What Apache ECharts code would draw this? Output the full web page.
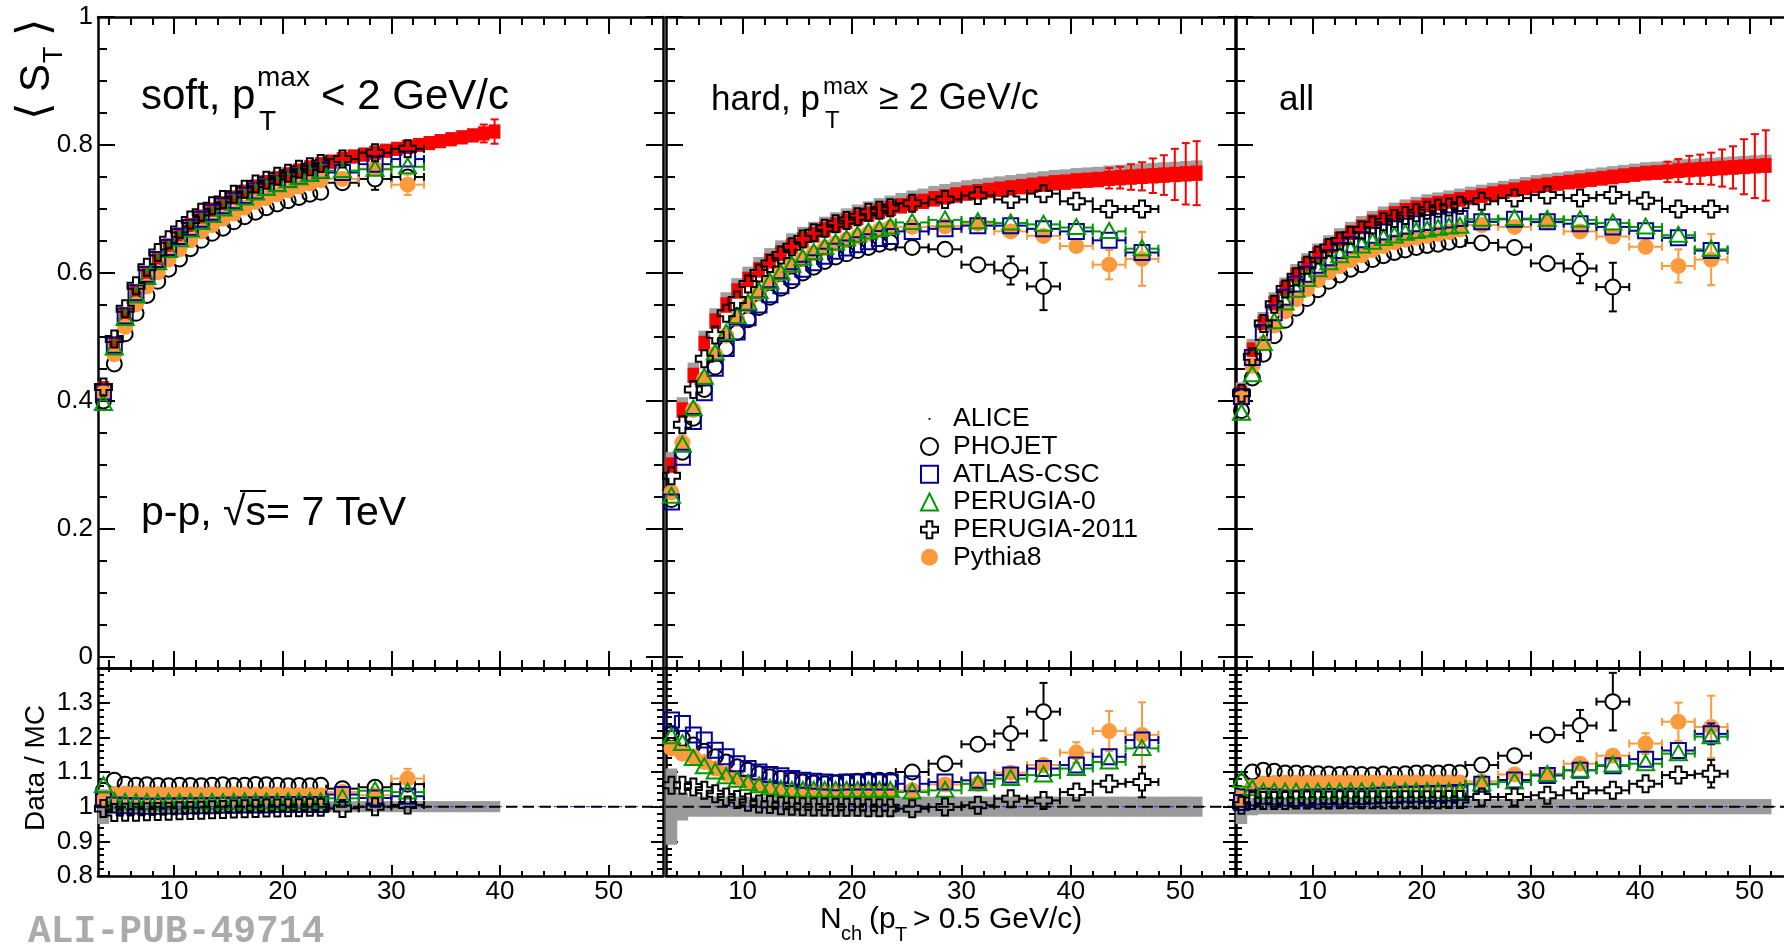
<!DOCTYPE html>
<html><head><meta charset="utf-8">
<script src="https://cdn.jsdelivr.net/npm/echarts@6/dist/echarts.min.js"></script>
<style>html,body{margin:0;padding:0;background:#fff;overflow:hidden;width:1784px;height:945px}#c{width:1812px;height:945px}</style>
</head><body><div id="c"></div>
<script>
// ---------------- DATA ----------------
const X_MAJOR = [10,20,30,40,50];
const X_MINOR = [4,6,8,12,14,16,18,22,24,26,28,32,34,36,38,42,44,46,48,52,54];
const Y_TOP_MAJOR = [0,0.2,0.4,0.6,0.8,1];
const Y_TOP_MINOR = [0.05,0.1,0.15,0.25,0.3,0.35,0.45,0.5,0.55,0.65,0.7,0.75,0.85,0.9,0.95];
const Y_RATIO_MAJOR = [0.8,0.9,1,1.1,1.2,1.3];
const Y_RATIO_MINOR = [0.82,0.84,0.86,0.88,0.92,0.94,0.96,0.98,1.02,1.04,1.06,1.08,1.12,1.14,1.16,1.18,1.22,1.24,1.26,1.28,1.32,1.34,1.36,1.38];

const ALICE_EDGES_SOFT = [3,4,5,6,7,8,9,10,11,12,13,14,15,16,17,18,19,20,21,22,23,24,25,26,27,28,29,30,31,32,33,34,35,36,37,38,39,40];
const ALICE_EDGES_FULL = [3,4,5,6,7,8,9,10,11,12,13,14,15,16,17,18,19,20,21,22,23,24,25,26,27,28,29,30,31,32,33,34,35,36,37,38,39,40,41,42,43,44,45,46,47,48,49,50,51,52];
const MC_EDGES = [3,4,5,6,7,8,9,10,11,12,13,14,15,16,17,18,19,20,21,22,23,24,27,30,33,36,39,42,45,48];

const ALICE_SOFT = [0.420,0.490,0.536,0.571,0.600,0.623,0.643,0.660,0.675,0.688,0.699,0.709,0.718,0.727,0.735,0.742,0.748,0.754,0.760,0.765,0.770,0.774,0.778,0.782,0.785,0.788,0.791,0.794,0.797,0.800,0.803,0.806,0.809,0.812,0.815,0.818,0.821];
const ALICE_SOFT_STAT = [0,0,0,0,0,0,0,0,0,0,0,0,0,0,0,0,0,0,0,0,0,0,0,0,0,0,0,0,0,0,0,0,0,0,0,0.014,0.019];
const ALICE_HARD = [0.300,0.386,0.440,0.490,0.525,0.550,0.572,0.590,0.605,0.619,0.631,0.642,0.652,0.660,0.668,0.675,0.681,0.687,0.692,0.697,0.701,0.705,0.709,0.712,0.716,0.719,0.722,0.725,0.727,0.729,0.731,0.733,0.735,0.737,0.739,0.741,0.742,0.744,0.745,0.746,0.748,0.749,0.750,0.751,0.752,0.753,0.754,0.755,0.756];
const ALICE_HARD_STAT = [0,0,0,0,0,0,0,0,0,0,0,0,0,0,0,0,0,0,0,0,0,0,0,0,0,0,0,0,0,0,0,0,0,0,0,0,0,0,0,0.012,0.016,0.017,0.020,0.022,0.027,0.031,0.040,0.048,0.050];
const ALICE_ALL = [0.412,0.480,0.522,0.553,0.576,0.597,0.614,0.629,0.642,0.653,0.663,0.672,0.680,0.687,0.693,0.698,0.702,0.706,0.709,0.712,0.715,0.718,0.721,0.724,0.727,0.730,0.733,0.736,0.738,0.740,0.742,0.744,0.746,0.748,0.750,0.752,0.754,0.756,0.757,0.758,0.760,0.761,0.762,0.763,0.764,0.765,0.766,0.767,0.768];
const ALICE_ALL_STAT = [0,0,0,0,0,0,0,0,0,0,0,0,0,0,0,0,0,0,0,0,0,0,0,0,0,0,0,0,0,0,0,0,0,0,0,0,0,0,0,0.016,0.018,0.022,0.023,0.025,0.029,0.033,0.043,0.050,0.055];

// systematic uncertainty of the ratio (grey band around 1)
const BAND_SOFT = [0.05,0.02,0.016,0.016,0.016,0.016,0.016,0.016,0.016,0.016,0.016,0.016,0.016,0.016,0.016,0.016,0.016,0.016,0.016,0.016,0.016,0.016,0.016,0.016,0.016,0.016,0.016,0.016,0.016,0.016,0.016,0.016,0.016,0.016,0.016,0.016,0.016];
const BAND_HARD = [0.11,0.04,0.029,0.029,0.029,0.029,0.029,0.029,0.029,0.029,0.029,0.029,0.029,0.029,0.029,0.029,0.029,0.029,0.029,0.029,0.029,0.029,0.029,0.029,0.029,0.029,0.029,0.029,0.029,0.029,0.029,0.029,0.029,0.029,0.029,0.029,0.029,0.029,0.029,0.029,0.029,0.029,0.029,0.029,0.029,0.029,0.029,0.029,0.029];
const BAND_ALL = [0.05,0.025,0.022,0.022,0.022,0.022,0.022,0.022,0.022,0.022,0.022,0.022,0.022,0.022,0.022,0.022,0.022,0.022,0.022,0.022,0.022,0.022,0.022,0.022,0.022,0.022,0.022,0.022,0.022,0.022,0.022,0.022,0.022,0.022,0.022,0.022,0.022,0.022,0.022,0.022,0.022,0.022,0.022,0.022,0.022,0.022,0.022,0.022,0.022];

// MC, <S_T>
const SOFT_PHOJET = [0.400,0.458,0.505,0.537,0.565,0.587,0.606,0.622,0.638,0.651,0.662,0.670,0.680,0.688,0.695,0.702,0.708,0.713,0.718,0.723,0.726,0.741,0.747,0.750];
const SOFT_PHOJET_ERR = [0,0,0,0,0,0,0,0,0,0,0,0,0,0,0,0,0,0,0,0,0,0.005,0.017,0.012];
const SOFT_ATLAS = [0.414,0.487,0.533,0.569,0.598,0.621,0.640,0.657,0.671,0.684,0.695,0.705,0.713,0.721,0.728,0.734,0.740,0.746,0.751,0.756,0.760,0.757,0.770,0.778];
const SOFT_ATLAS_ERR = [0,0,0,0,0,0,0,0,0,0,0,0,0,0,0,0,0,0,0,0,0,0.004,0.006,0.008];
const SOFT_P0 = [0.396,0.483,0.529,0.564,0.593,0.616,0.635,0.652,0.667,0.679,0.690,0.700,0.709,0.717,0.725,0.732,0.738,0.744,0.749,0.754,0.759,0.760,0.762,0.766];
const SOFT_P0_ERR = [0,0,0,0,0,0,0,0,0,0,0,0,0,0,0,0,0,0,0,0,0,0.004,0.006,0.008];
const SOFT_P11 = [0.422,0.497,0.544,0.580,0.609,0.632,0.652,0.668,0.683,0.695,0.705,0.715,0.723,0.731,0.739,0.745,0.751,0.756,0.762,0.766,0.771,0.778,0.788,0.794];
const SOFT_P11_ERR = [0,0,0,0,0,0,0,0,0,0,0,0,0,0,0,0,0,0,0,0,0,0.004,0.006,0.008];
const SOFT_PY8 = [0.412,0.473,0.516,0.551,0.579,0.601,0.621,0.637,0.651,0.665,0.675,0.685,0.693,0.702,0.711,0.717,0.723,0.729,0.735,0.740,0.745,0.747,0.763,0.738];
const SOFT_PY8_ERR = [0,0,0,0,0,0,0,0,0,0,0,0,0,0,0,0,0,0,0,0,0,0.005,0.009,0.016];

const HARD_PHOJET = [0.246,0.320,0.373,0.418,0.453,0.482,0.507,0.527,0.546,0.562,0.576,0.588,0.600,0.609,0.618,0.625,0.630,0.635,0.640,0.645,0.648,0.640,0.637,0.613,0.604,0.579];
const HARD_PHOJET_ERR = [0,0,0,0,0,0,0,0,0,0,0,0,0,0,0,0,0,0,0,0,0,0.004,0.006,0.010,0.022,0.037];
const HARD_ATLAS = [0.242,0.312,0.368,0.413,0.451,0.482,0.508,0.530,0.550,0.566,0.580,0.594,0.606,0.616,0.626,0.634,0.639,0.644,0.649,0.654,0.657,0.665,0.669,0.674,0.674,0.669,0.665,0.651,0.632];
const HARD_ATLAS_ERR = [0,0,0,0,0,0,0,0,0,0,0,0,0,0,0,0,0,0,0,0,0,0.003,0.004,0.005,0.006,0.007,0.008,0.010,0.013];
const HARD_P0 = [0.251,0.331,0.388,0.437,0.475,0.506,0.532,0.553,0.571,0.586,0.600,0.612,0.623,0.632,0.640,0.647,0.653,0.659,0.664,0.668,0.672,0.679,0.683,0.680,0.678,0.676,0.671,0.665,0.638];
const HARD_P0_ERR = [0,0,0,0,0,0,0,0,0,0,0,0,0,0,0,0,0,0,0,0,0,0.003,0.004,0.005,0.006,0.007,0.008,0.010,0.013];
const HARD_P11 = [0.283,0.363,0.418,0.466,0.503,0.537,0.558,0.583,0.600,0.615,0.628,0.641,0.653,0.663,0.670,0.677,0.682,0.688,0.695,0.698,0.702,0.709,0.715,0.721,0.715,0.724,0.712,0.700,0.700];
const HARD_P11_ERR = [0,0,0,0,0,0,0,0,0,0,0,0,0,0,0,0,0,0,0,0,0,0.003,0.004,0.005,0.006,0.007,0.008,0.009,0.012];
const HARD_PY8 = [0.257,0.335,0.386,0.434,0.473,0.502,0.528,0.550,0.569,0.585,0.599,0.612,0.622,0.631,0.639,0.646,0.652,0.657,0.662,0.667,0.671,0.672,0.673,0.677,0.665,0.658,0.642,0.613,0.622];
const HARD_PY8_ERR = [0,0,0,0,0,0,0,0,0,0,0,0,0,0,0,0,0,0,0,0,0,0.004,0.005,0.006,0.008,0.010,0.012,0.023,0.042];

const ALL_PHOJET = [0.385,0.436,0.473,0.502,0.526,0.545,0.560,0.574,0.587,0.597,0.606,0.613,0.621,0.627,0.632,0.636,0.640,0.643,0.645,0.648,0.652,0.647,0.640,0.615,0.607,0.578];
const ALL_PHOJET_ERR = [0,0,0,0,0,0,0,0,0,0,0,0,0,0,0,0,0,0,0,0,0,0.004,0.005,0.008,0.023,0.038];
const ALL_ATLAS = [0.407,0.468,0.507,0.538,0.562,0.583,0.598,0.612,0.624,0.635,0.644,0.652,0.659,0.664,0.669,0.673,0.677,0.679,0.681,0.683,0.685,0.680,0.684,0.680,0.677,0.672,0.666,0.655,0.635];
const ALL_ATLAS_ERR = [0,0,0,0,0,0,0,0,0,0,0,0,0,0,0,0,0,0,0,0,0,0.003,0.004,0.005,0.006,0.007,0.008,0.010,0.013];
const ALL_P0 = [0.381,0.441,0.490,0.524,0.553,0.573,0.590,0.605,0.616,0.627,0.635,0.642,0.648,0.654,0.658,0.662,0.665,0.667,0.670,0.672,0.673,0.684,0.685,0.684,0.683,0.678,0.672,0.659,0.637];
const ALL_P0_ERR = [0,0,0,0,0,0,0,0,0,0,0,0,0,0,0,0,0,0,0,0,0,0.003,0.004,0.005,0.006,0.007,0.008,0.010,0.013];
const ALL_P11 = [0.412,0.469,0.521,0.551,0.575,0.594,0.612,0.628,0.640,0.650,0.659,0.667,0.675,0.680,0.685,0.690,0.694,0.698,0.701,0.703,0.706,0.712,0.717,0.722,0.717,0.722,0.713,0.700,0.700];
const ALL_P11_ERR = [0,0,0,0,0,0,0,0,0,0,0,0,0,0,0,0,0,0,0,0,0,0.003,0.004,0.005,0.006,0.007,0.008,0.009,0.012];
const ALL_PY8 = [0.404,0.455,0.490,0.518,0.540,0.559,0.575,0.589,0.601,0.611,0.620,0.628,0.636,0.642,0.648,0.652,0.655,0.658,0.661,0.664,0.668,0.675,0.672,0.679,0.665,0.657,0.641,0.611,0.621];
const ALL_PY8_ERR = [0,0,0,0,0,0,0,0,0,0,0,0,0,0,0,0,0,0,0,0,0,0.004,0.005,0.006,0.008,0.010,0.012,0.026,0.040];

// Data / MC
const R_SOFT_PHOJET = [1.047,1.076,1.065,1.062,1.063,1.061,1.060,1.062,1.061,1.060,1.062,1.063,1.061,1.062,1.064,1.063,1.062,1.060,1.061,1.060,1.062,1.052,1.056,1.065];
const R_SOFT_PHOJET_ERR = [0,0,0,0,0,0,0,0,0,0,0,0,0,0,0,0,0,0,0,0,0,0.006,0.018,0.020];
const R_SOFT_ATLAS = [1.020,1.005,1.003,1.002,1.001,1.001,1.002,1.002,1.003,1.003,1.003,1.004,1.004,1.005,1.005,1.005,1.006,1.006,1.006,1.006,1.006,1.035,1.025,1.030];
const R_SOFT_ATLAS_ERR = [0,0,0,0,0,0,0,0,0,0,0,0,0,0,0,0,0,0,0,0,0,0.006,0.008,0.010];
const R_SOFT_P0 = [1.061,1.015,1.013,1.012,1.012,1.011,1.012,1.011,1.012,1.013,1.013,1.012,1.013,1.014,1.013,1.014,1.013,1.014,1.014,1.014,1.014,1.024,1.046,1.042];
const R_SOFT_P0_ERR = [0,0,0,0,0,0,0,0,0,0,0,0,0,0,0,0,0,0,0,0,0,0.006,0.008,0.010];
const R_SOFT_P11 = [0.995,0.983,0.984,0.984,0.985,0.986,0.987,0.988,0.989,0.990,0.991,0.992,0.993,0.994,0.995,0.996,0.996,0.997,0.997,0.998,0.998,0.995,1.000,1.005];
const R_SOFT_P11_ERR = [0,0,0,0,0,0,0,0,0,0,0,0,0,0,0,0,0,0,0,0,0,0.006,0.008,0.012];
const R_SOFT_PY8 = [1.018,1.036,1.038,1.037,1.036,1.036,1.035,1.036,1.036,1.035,1.036,1.035,1.036,1.035,1.034,1.035,1.035,1.034,1.034,1.034,1.033,1.042,1.033,1.081];
const R_SOFT_PY8_ERR = [0,0,0,0,0,0,0,0,0,0,0,0,0,0,0,0,0,0,0,0,0,0.006,0.012,0.028];

const R_HARD_PHOJET = [1.211,1.197,1.178,1.160,1.144,1.129,1.115,1.105,1.095,1.086,1.081,1.076,1.071,1.068,1.066,1.068,1.071,1.073,1.076,1.076,1.076,1.100,1.124,1.180,1.211,1.274];
const R_HARD_PHOJET_ERR = [0,0,0,0,0,0,0,0,0,0,0,0,0,0,0,0,0,0,0,0,0,0.008,0.012,0.020,0.047,0.083];
const R_HARD_ATLAS = [1.250,1.240,1.207,1.192,1.163,1.144,1.124,1.110,1.100,1.093,1.089,1.081,1.076,1.073,1.071,1.069,1.071,1.071,1.071,1.071,1.071,1.066,1.071,1.076,1.091,1.110,1.120,1.144,1.192];
const R_HARD_ATLAS_ERR = [0,0,0,0,0,0,0,0,0,0,0,0,0,0,0,0,0,0,0,0,0,0.005,0.006,0.008,0.010,0.012,0.015,0.020,0.025];
const R_HARD_P0 = [1.202,1.182,1.139,1.115,1.100,1.086,1.076,1.067,1.060,1.054,1.050,1.047,1.047,1.047,1.047,1.047,1.047,1.047,1.047,1.047,1.047,1.042,1.047,1.066,1.081,1.091,1.110,1.129,1.168];
const R_HARD_P0_ERR = [0,0,0,0,0,0,0,0,0,0,0,0,0,0,0,0,0,0,0,0,0,0.005,0.006,0.008,0.010,0.012,0.015,0.020,0.025];
const R_HARD_P11 = [1.062,1.062,1.057,1.047,1.037,1.028,1.021,1.013,1.008,1.006,1.003,1.001,1.000,0.999,0.999,0.998,0.998,0.998,0.997,0.997,0.997,0.994,0.999,1.004,1.023,1.018,1.042,1.066,1.071];
const R_HARD_P11_ERR = [0,0,0,0,0,0,0,0,0,0,0,0,0,0,0,0,0,0,0,0,0,0.005,0.006,0.008,0.010,0.012,0.015,0.020,0.044];
const R_HARD_PY8 = [1.168,1.153,1.144,1.129,1.110,1.095,1.083,1.071,1.062,1.054,1.050,1.044,1.043,1.042,1.042,1.042,1.042,1.042,1.042,1.042,1.042,1.047,1.064,1.066,1.098,1.120,1.156,1.218,1.207];
const R_HARD_PY8_ERR = [0,0,0,0,0,0,0,0,0,0,0,0,0,0,0,0,0,0,0,0,0,0.006,0.008,0.010,0.012,0.016,0.030,0.058,0.094];

const R_ALL_PHOJET = [1.071,1.100,1.105,1.102,1.097,1.097,1.096,1.095,1.094,1.093,1.094,1.093,1.092,1.094,1.093,1.095,1.097,1.098,1.097,1.099,1.098,1.120,1.147,1.207,1.234,1.303];
const R_ALL_PHOJET_ERR = [0,0,0,0,0,0,0,0,0,0,0,0,0,0,0,0,0,0,0,0,0,0.006,0.010,0.015,0.045,0.083];
const R_ALL_ATLAS = [1.012,1.026,1.030,1.028,1.025,1.024,1.027,1.028,1.029,1.028,1.030,1.029,1.031,1.033,1.034,1.036,1.036,1.037,1.038,1.039,1.041,1.065,1.077,1.090,1.105,1.118,1.137,1.162,1.210];
const R_ALL_ATLAS_ERR = [0,0,0,0,0,0,0,0,0,0,0,0,0,0,0,0,0,0,0,0,0,0.005,0.006,0.008,0.010,0.012,0.015,0.020,0.030];
const R_ALL_P0 = [1.076,1.052,1.042,1.042,1.042,1.042,1.042,1.042,1.042,1.042,1.043,1.043,1.043,1.043,1.044,1.044,1.044,1.044,1.044,1.044,1.044,1.066,1.071,1.093,1.105,1.120,1.124,1.153,1.202];
const R_ALL_P0_ERR = [0,0,0,0,0,0,0,0,0,0,0,0,0,0,0,0,0,0,0,0,0,0.005,0.006,0.008,0.010,0.012,0.015,0.020,0.020];
const R_ALL_P11 = [1.004,1.018,1.018,1.018,1.018,1.019,1.019,1.019,1.019,1.020,1.020,1.020,1.020,1.020,1.020,1.020,1.020,1.020,1.020,1.021,1.021,1.028,1.028,1.033,1.047,1.047,1.066,1.091,1.095];
const R_ALL_P11_ERR = [0,0,0,0,0,0,0,0,0,0,0,0,0,0,0,0,0,0,0,0,0,0.005,0.006,0.008,0.010,0.012,0.015,0.020,0.040];
const R_ALL_PY8 = [1.023,1.057,1.067,1.068,1.069,1.069,1.070,1.070,1.070,1.070,1.070,1.070,1.070,1.070,1.070,1.070,1.070,1.070,1.070,1.070,1.070,1.073,1.093,1.093,1.124,1.147,1.182,1.245,1.230];
const R_ALL_PY8_ERR = [0,0,0,0,0,0,0,0,0,0,0,0,0,0,0,0,0,0,0,0,0,0.006,0.008,0.010,0.012,0.016,0.030,0.055,0.090];

const MC_NAMES = ['PHOJET','ATLAS-CSC','PERUGIA-0','PERUGIA-2011','Pythia8'];

// ---------------- STYLE / LAYOUT ----------------
const FONT = '"Liberation Sans", Arial, Helvetica, sans-serif';
const PANELS = [[98,565],[666,569],[1236,568]];
const TOP_Y = 17, TOP_H = 651, BOT_Y = 668, BOT_H = 208;
const MARK = {
  'PHOJET':       {kind:'circle',   color:'#000000', fill:'none'},
  'ATLAS-CSC':    {kind:'square',   color:'#000099', fill:'none'},
  'PERUGIA-0':    {kind:'triangle', color:'#009900', fill:'none'},
  'PERUGIA-2011': {kind:'cross',    color:'#000000', fill:'none'},
  'Pythia8':      {kind:'dot',      color:'#fd9a3c', fill:'#fd9a3c'}
};
const DRAW_ORDER = ['PHOJET','Pythia8','ATLAS-CSC','PERUGIA-0','PERUGIA-2011'];

function markerShape(kind, cx, cy, st) {
  const lw = 2;
  if (kind === 'circle') return {type:'circle', shape:{cx, cy, r:7.5}, style:{fill:st.fill, stroke:st.color, lineWidth:lw}};
  if (kind === 'dot') return {type:'circle', shape:{cx, cy, r:8}, style:{fill:st.color}};
  if (kind === 'square') return {type:'rect', shape:{x:cx-7.5, y:cy-7.5, width:15, height:15}, style:{fill:st.fill, stroke:st.color, lineWidth:lw}};
  if (kind === 'triangle') return {type:'polygon', shape:{points:[[cx,cy-8.5],[cx-8.5,cy+6.5],[cx+8.5,cy+6.5]]}, style:{fill:st.fill, stroke:st.color, lineWidth:lw}};
  const a = 8.5, b = 3;
  return {type:'polygon', shape:{points:[[cx-b,cy-a],[cx+b,cy-a],[cx+b,cy-b],[cx+a,cy-b],[cx+a,cy+b],[cx+b,cy+b],[cx+b,cy+a],[cx-b,cy+a],[cx-b,cy+b],[cx-a,cy+b],[cx-a,cy-b],[cx-b,cy-b]]}, style:{fill:st.fill, stroke:st.color, lineWidth:lw}};
}
function seg(x1,y1,x2,y2,color,w){ return {type:'line', shape:{x1,y1,x2,y2}, style:{stroke:color, lineWidth:w||2}}; }

function mcRender(name) {
  const st = MARK[name];
  return function(params, api) {
    const x = api.value(0), xe = api.value(1), y = api.value(2), ye = api.value(3);
    const c = api.coord([x, y]);
    const xl = api.coord([x - xe, y])[0], xr = api.coord([x + xe, y])[0];
    const yt = api.coord([x, y + ye])[1], yb = api.coord([x, y - ye])[1];
    const R = 8, cap = 4, ch = [];
    if (c[0] - xl > R + 1) {
      ch.push(seg(xl, c[1], c[0]-R, c[1], st.color), seg(c[0]+R, c[1], xr, c[1], st.color));
      ch.push(seg(xl, c[1]-cap, xl, c[1]+cap, st.color), seg(xr, c[1]-cap, xr, c[1]+cap, st.color));
    }
    if (c[1] - yt > R + 1) {
      ch.push(seg(c[0], yt, c[0], c[1]-R, st.color), seg(c[0], c[1]+R, c[0], yb, st.color));
      ch.push(seg(c[0]-cap, yt, c[0]+cap, yt, st.color), seg(c[0]-cap, yb, c[0]+cap, yb, st.color));
    }
    ch.push(markerShape(st.kind, c[0], c[1], st));
    return {type:'group', children:ch};
  };
}

function mcSeries(g, name, vals, errs) {
  const data = vals.map((v,i) => [(MC_EDGES[i]+MC_EDGES[i+1])/2, (MC_EDGES[i+1]-MC_EDGES[i])/2, v, errs[i]]);
  return {type:'custom', name, coordinateSystem:'cartesian2d', xAxisIndex:4*g, yAxisIndex:4*g,
    silent:true, animation:false, encode:{x:0, y:2}, data, renderItem: mcRender(name)};
}

// boxes spanning each bin (ALICE systematic boxes / ratio band)
function boxSeries(g, name, edges, vals, halfArr, half, off, color) {
  const data = vals.map((v,i) => [edges[i], edges[i+1], v, halfArr ? halfArr[i] : half]);
  return {type:'custom', name, coordinateSystem:'cartesian2d', xAxisIndex:4*g, yAxisIndex:4*g,
    silent:true, animation:false, encode:{x:[0,1], y:2}, data,
    renderItem(params, api) {
      const x0 = api.value(0), x1 = api.value(1), y = api.value(2), h = api.value(3);
      const p0 = api.coord([x0, y + off + h]), p1 = api.coord([x1, y + off - h]);
      return {type:'rect', shape:{x:p0[0]-0.3, y:p0[1], width:p1[0]-p0[0]+0.6, height:p1[1]-p0[1]}, style:{fill:color}};
    }};
}
function statSeries(g, edges, vals, stat, sys) {
  const data = vals.map((v,i) => [(edges[i]+edges[i+1])/2, v, stat[i]]);
  return {type:'custom', name:'ALICE', coordinateSystem:'cartesian2d', xAxisIndex:4*g, yAxisIndex:4*g,
    silent:true, animation:false, encode:{x:0, y:1}, data,
    renderItem(params, api) {
      const x = api.value(0), y = api.value(1), s = api.value(2);
      if (!(s > sys)) return null;
      const t = api.coord([x, y + s]), b = api.coord([x, y - s]);
      return {type:'group', children:[seg(t[0], t[1], b[0], b[1], '#ff0000'), seg(t[0]-4, t[1], t[0]+4, t[1], '#ff0000'), seg(b[0]-4, b[1], b[0]+4, b[1], '#ff0000')]};
    }};
}

// ---------------- AXES ----------------
const xAxes = [], yAxes = [], grids = [];
for (let g = 0; g < 6; g++) {
  const p = g % 3, ratio = g >= 3;
  grids.push({left:PANELS[p][0], width:PANELS[p][1], top: ratio ? BOT_Y : TOP_Y, height: ratio ? BOT_H : TOP_H});
  const bMaj = ratio ? 11 : 17, bMin = ratio ? 5 : 8, tMaj = ratio ? 8 : 17, tMin = ratio ? 4 : 8;
  const xa = (pos, vals, len, line, label) => ({
    type:'value', gridIndex:g, position:pos, min:3, max:55, silent:true,
    axisLine:{show:line, onZero:false, lineStyle:{color:'#000', width:2.5}},
    axisTick:{show:true, inside:true, length:len, customValues:vals, lineStyle:{color:'#000', width:2}},
    axisLabel: label ? {show:true, customValues:X_MAJOR, margin:3, fontSize:26, fontFamily:FONT, color:'#000'} : {show:false},
    splitLine:{show:false}, axisPointer:{show:false}
  });
  xAxes.push(xa('bottom', X_MAJOR, bMaj, true, ratio), xa('bottom', X_MINOR, bMin, false, false),
             xa('top', X_MAJOR, tMaj, true, false), xa('top', X_MINOR, tMin, false, false));
  const yMajV = ratio ? Y_RATIO_MAJOR : Y_TOP_MAJOR, yMinV = ratio ? Y_RATIO_MINOR : Y_TOP_MINOR;
  const yMajL = ratio ? 12 : 17, yMinL = ratio ? 6 : 9;
  const ya = (pos, vals, len, line, label) => ({
    type:'value', gridIndex:g, position:pos, min: ratio ? 0.8 : -0.0172, max: ratio ? 1.4 : 1, silent:true,
    axisLine:{show:line, onZero:false, lineStyle:{color:'#000', width:2.5}},
    axisTick:{show:true, inside:true, length:len, customValues:vals, lineStyle:{color:'#000', width:2}},
    axisLabel: label ? {show:true, customValues:yMajV, margin:5, fontSize:26, fontFamily:FONT, color:'#000'} : {show:false},
    splitLine:{show:false}, axisPointer:{show:false}
  });
  yAxes.push(ya('left', yMajV, yMajL, true, p === 0), ya('left', yMinV, yMinL, false, false),
             ya('right', yMajV, yMajL, true, false), ya('right', yMinV, yMinL, false, false));
}

// ---------------- SERIES ----------------
const series = [];
const TOP = [
  {edges:ALICE_EDGES_SOFT, alice:ALICE_SOFT, stat:ALICE_SOFT_STAT, sys:0.011, gray:0.011, off:0.0,
   mc:{'PHOJET':[SOFT_PHOJET,SOFT_PHOJET_ERR],'ATLAS-CSC':[SOFT_ATLAS,SOFT_ATLAS_ERR],'PERUGIA-0':[SOFT_P0,SOFT_P0_ERR],'PERUGIA-2011':[SOFT_P11,SOFT_P11_ERR],'Pythia8':[SOFT_PY8,SOFT_PY8_ERR]}},
  {edges:ALICE_EDGES_FULL, alice:ALICE_HARD, stat:ALICE_HARD_STAT, sys:0.012, gray:0.016, off:0.004,
   mc:{'PHOJET':[HARD_PHOJET,HARD_PHOJET_ERR],'ATLAS-CSC':[HARD_ATLAS,HARD_ATLAS_ERR],'PERUGIA-0':[HARD_P0,HARD_P0_ERR],'PERUGIA-2011':[HARD_P11,HARD_P11_ERR],'Pythia8':[HARD_PY8,HARD_PY8_ERR]}},
  {edges:ALICE_EDGES_FULL, alice:ALICE_ALL, stat:ALICE_ALL_STAT, sys:0.0115, gray:0.014, off:0.003,
   mc:{'PHOJET':[ALL_PHOJET,ALL_PHOJET_ERR],'ATLAS-CSC':[ALL_ATLAS,ALL_ATLAS_ERR],'PERUGIA-0':[ALL_P0,ALL_P0_ERR],'PERUGIA-2011':[ALL_P11,ALL_P11_ERR],'Pythia8':[ALL_PY8,ALL_PY8_ERR]}}
];
const BOT = [
  {edges:ALICE_EDGES_SOFT, band:BAND_SOFT, ones:ALICE_SOFT,
   mc:{'PHOJET':[R_SOFT_PHOJET,R_SOFT_PHOJET_ERR],'ATLAS-CSC':[R_SOFT_ATLAS,R_SOFT_ATLAS_ERR],'PERUGIA-0':[R_SOFT_P0,R_SOFT_P0_ERR],'PERUGIA-2011':[R_SOFT_P11,R_SOFT_P11_ERR],'Pythia8':[R_SOFT_PY8,R_SOFT_PY8_ERR]}},
  {edges:ALICE_EDGES_FULL, band:BAND_HARD, ones:ALICE_HARD,
   mc:{'PHOJET':[R_HARD_PHOJET,R_HARD_PHOJET_ERR],'ATLAS-CSC':[R_HARD_ATLAS,R_HARD_ATLAS_ERR],'PERUGIA-0':[R_HARD_P0,R_HARD_P0_ERR],'PERUGIA-2011':[R_HARD_P11,R_HARD_P11_ERR],'Pythia8':[R_HARD_PY8,R_HARD_PY8_ERR]}},
  {edges:ALICE_EDGES_FULL, band:BAND_ALL, ones:ALICE_ALL,
   mc:{'PHOJET':[R_ALL_PHOJET,R_ALL_PHOJET_ERR],'ATLAS-CSC':[R_ALL_ATLAS,R_ALL_ATLAS_ERR],'PERUGIA-0':[R_ALL_P0,R_ALL_P0_ERR],'PERUGIA-2011':[R_ALL_P11,R_ALL_P11_ERR],'Pythia8':[R_ALL_PY8,R_ALL_PY8_ERR]}}
];
TOP.forEach((P, g) => {
  series.push(boxSeries(g, 'ALICE', P.edges, P.alice, null, P.gray, P.off, '#a0a0a0'));
  series.push(boxSeries(g, 'ALICE', P.edges, P.alice, null, P.sys, 0, '#ff0000'));
  series.push(statSeries(g, P.edges, P.alice, P.stat, P.sys));
  DRAW_ORDER.forEach(n => series.push(mcSeries(g, n, P.mc[n][0], P.mc[n][1])));
});
BOT.forEach((P, k) => {
  const g = k + 3;
  const unity = P.ones.map(() => 1);
  series.push(boxSeries(g, 'ALICE', P.edges, unity, P.band, 0, 0, '#9a9a9a'));
  series.push({type:'line', xAxisIndex:4*g, yAxisIndex:4*g, data:[[3,1],[55,1]], symbol:'none', silent:true, animation:false,
    lineStyle:{color:'#2222ff', width:1, type:[4,4]}});
  series.push({type:'line', xAxisIndex:4*g, yAxisIndex:4*g, data:[[3,1],[55,1]], symbol:'none', silent:true, animation:false,
    lineStyle:{color:'#000', width:2, type:[11,6]}});
  DRAW_ORDER.forEach(n => series.push(mcSeries(g, n, P.mc[n][0], P.mc[n][1])));
});

// ---------------- TEXT ----------------
function T(x, base, text, size, opts) {
  opts = opts || {};
  const mid = opts.mid != null ? opts.mid : 0.3465;
  return {type:'text', x, y: base - mid*size, silent:true, rotation: opts.rotation || 0,
    style:{text, font:(opts.weight||'normal') + ' ' + size + 'px ' + (opts.family || FONT), fill: opts.fill || '#000',
      align: opts.align || 'left', verticalAlign:'middle', textAlign: opts.align || 'left', textVerticalAlign:'middle'}};
}
const BR = '"DejaVu Sans", ' + FONT;
const graphics = [
  T(141, 112, 'soft, p', 42), T(257, 88, 'max', 28), T(259, 132, 'T', 28), T(321, 112, '< 2 GeV/c', 42),
  T(711, 112, 'hard, p', 35), T(823, 96, 'max', 24), T(825, 130, 'T', 24), T(879, 112, '\u2265 2 GeV/c', 36),
  T(1279, 112, 'all', 35),
  T(141, 528, 'p-p, \u221As= 7 TeV', 41),
  {type:'line', silent:true, shape:{x1:240, y1:491, x2:266, y2:491}, style:{stroke:'#000', lineWidth:2}},
  T(820, 930, 'N', 30), T(841, 941, 'ch', 20), T(869, 930, '(p', 30), T(895, 942, 'T', 20), T(913, 930, '> 0.5 GeV/c)', 30),
  {type:'group', x:52, y:120, rotation:Math.PI/2, silent:true, children:[
    T(0, 0, '\u27E8', 45, {family:BR}), T(28, 0, 'S', 42), T(57, 12, 'T', 27), T(84, 0, '\u27E9', 45, {family:BR})
  ]},
  {type:'text', x:36, y:768, rotation:Math.PI/2, silent:true,
    style:{text:'Data / MC', font:'28px ' + FONT, fill:'#000', align:'center', verticalAlign:'middle', textAlign:'center', textVerticalAlign:'middle'}},
  T(28, 943, 'ALI-PUB-49714', 38, {family:'"Liberation Mono", "DejaVu Sans Mono", monospace', weight:'bold', fill:'#ababab', mid:0.2665})
];

const option = {
  animation:false,
  backgroundColor:'#ffffff',
  grid: grids, xAxis: xAxes, yAxis: yAxes, series,
  legend: {
    orient:'vertical', left:915, top:400, itemWidth:17, itemHeight:17, itemGap:0, selectedMode:false,
    textStyle:{fontSize:26.5, fontFamily:FONT, color:'#000', lineHeight:27.7, padding:[0,0,0,10]},
    data:[
      {name:'ALICE', icon:'path://M0,0M18,18M8,8h2v2h-2z', itemStyle:{color:'#000', borderWidth:0}},
      {name:'PHOJET', icon:'circle', itemStyle:{color:'#fff', borderColor:'#000', borderWidth:2}},
      {name:'ATLAS-CSC', icon:'rect', itemStyle:{color:'#fff', borderColor:'#000099', borderWidth:2}},
      {name:'PERUGIA-0', icon:'triangle', itemStyle:{color:'#fff', borderColor:'#009900', borderWidth:2}},
      {name:'PERUGIA-2011', icon:'path://M6,0h6v6h6v6h-6v6h-6v-6h-6v-6h6z', itemStyle:{color:'#fff', borderColor:'#000', borderWidth:2}},
      {name:'Pythia8', icon:'circle', itemStyle:{color:'#fd9a3c', borderWidth:0}}
    ]
  },
  graphic: graphics
};
const chart = echarts.init(document.getElementById('c'), null, {renderer:'canvas', width:1812, height:945});
chart.setOption(option);
</script>
</body></html>
